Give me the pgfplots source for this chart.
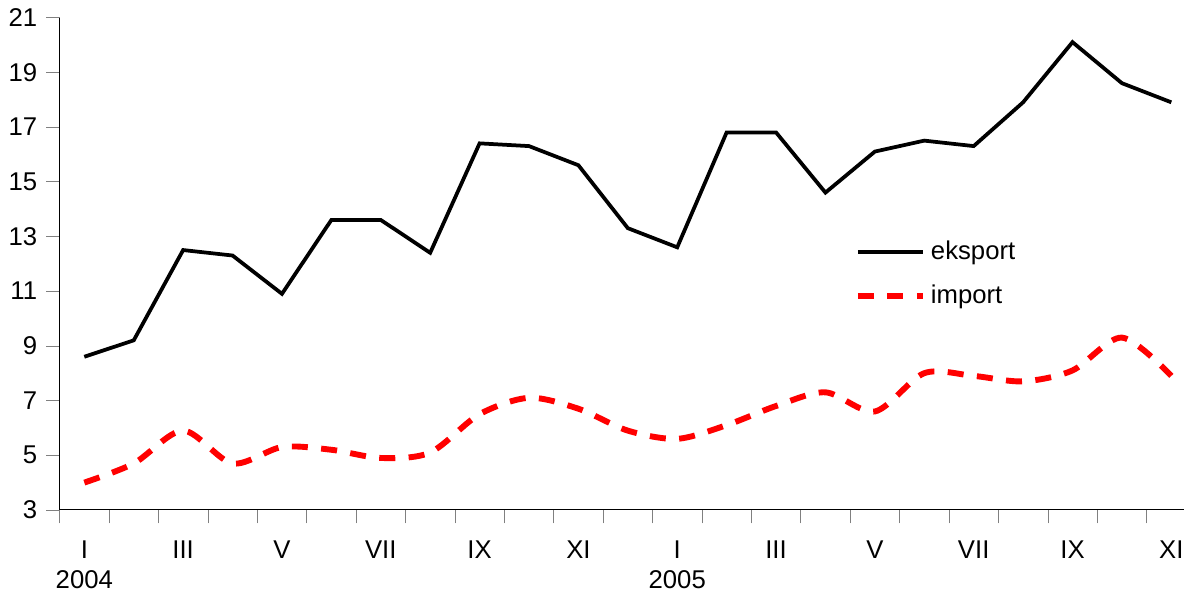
\documentclass[border=0pt]{standalone}
\usepackage{pgfplots}
\pgfplotsset{compat=1.18}
\usepackage{fontspec}
\setmainfont{Liberation Sans}
\begin{document}
\fontsize{9.6}{11.5}\selectfont
\begin{tikzpicture}
\begin{axis}[
  scale only axis, width=420pt, height=184pt,
  xmin=-0.5, xmax=22.25, ymin=3, ymax=21,
  ytick={3,5,...,21},
  /pgf/number format/assume math mode=true,
  tick align=outside, tick pos=left,
  xtick={0,...,22},
  major x tick style={draw=none},
  minor xtick={-0.5,0.5,...,21.5},
  minor tick length=5pt, major tick length=5pt,
  xticklabels={I\\2004,,III,,V,,VII,,IX,,XI,,I\\2005,,III,,V,,VII,,IX,,XI},
  x tick label style={align=center, anchor=north, yshift=-3pt},
  axis y line*=left, axis x line*=bottom,
  every axis plot/.append style={line width=1.4pt},
  legend style={draw=none, at={(0.7,0.57)}, anchor=north west, fill=none, row sep=4pt,
    nodes={inner sep=2pt}},
  legend image code/.code={\draw[#1] (0cm,0cm) -- (0.85cm,0cm);},
  legend cell align=left,
]
\addplot[black, mark=none] coordinates {(0,8.6)(1,9.2)(2,12.5)(3,12.3)(4,10.9)(5,13.6)(6,13.6)(7,12.4)(8,16.4)(9,16.3)(10,15.6)(11,13.3)(12,12.6)(13,16.8)(14,16.8)(15,14.6)(16,16.1)(17,16.5)(18,16.3)(19,17.9)(20,20.1)(21,18.6)(22,17.9)};
\addlegendentry{eksport}
\addplot[red, mark=none, smooth, line width=2.2pt, dash pattern=on 6pt off 5pt] coordinates {(0,4.0)(1,4.7)(2,5.9)(3,4.7)(4,5.3)(5,5.2)(6,4.9)(7,5.1)(8,6.5)(9,7.1)(10,6.7)(11,5.9)(12,5.6)(13,6.1)(14,6.8)(15,7.3)(16,6.6)(17,8.0)(18,7.9)(19,7.7)(20,8.1)(21,9.3)(22,7.9)};
\addlegendentry{import}
\end{axis}
\end{tikzpicture}
\end{document}
